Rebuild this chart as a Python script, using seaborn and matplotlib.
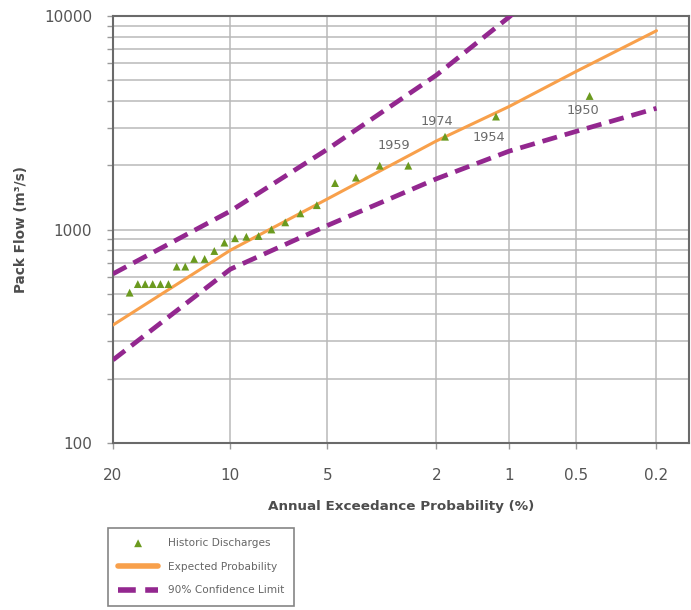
import numpy as np
import matplotlib
matplotlib.use("Agg")
import matplotlib.pyplot as plt
import seaborn as sns
from statistics import NormalDist
from matplotlib.ticker import FixedLocator, FixedFormatter, NullLocator, NullFormatter, LogLocator

# ---------------- data ----------------
# Historic discharges: plotting-position AEP (%) and peak flow (m3/s)
aep_hist = [0.43, 1.14, 1.85, 2.57, 3.28, 3.99, 4.71, 5.42, 6.13, 6.85, 7.56, 8.27, 8.99,
            9.70, 10.4, 11.1, 11.8, 12.6, 13.3, 14.0, 14.7, 15.4, 16.1, 16.8, 17.5, 18.3]
q_hist = [4220, 3380, 2720, 1990, 1990, 1750, 1650, 1300, 1190, 1080, 1000, 932, 925,
          910, 868, 793, 728, 728, 670, 670, 555, 555, 555, 555, 555, 506]

# Fitted curves evaluated at standard AEPs (%)
aep_curve = [20, 10, 5, 2, 1, 0.5, 0.2]
q_expected = [357, 800, 1390, 2600, 3770, 5490, 8530]
q_upper = [620, 1220, 2375, 5290, 9900, 18600, 42000]
q_lower = [245, 652, 1044, 1728, 2329, 2878, 3696]

# Labelled events: (label, index into historic arrays, text offset in points)
event_labels = ["1950", "1954", "1974", "1959"]
event_index = [0, 1, 2, 4]
event_offsets = [(-4.8, -10.1), (-5.3, -15.4), (-5.8, 10.8), (10.3, 14.6)]

x_ticks = [20, 10, 5, 2, 1, 0.5, 0.2]
x_ticklabels = ["20", "10", "5", "2", "1", "0.5", "0.2"]
y_ticks = [100, 1000, 10000]
y_ticklabels = ["100", "1000", "10000"]

GREEN = "#6b9a1f"
ORANGE = "#f8a04b"
PURPLE = "#93278f"
GRID = "#b9b9b9"
SPINE = "#6a6a6a"
TXT = "#555555"

# ---------------- style ----------------
sns.set_theme(style="white")
plt.rcParams["font.family"] = ["DejaVu Sans"]

# normal probability scale for AEP (%) (monotonic increasing transform)
_nd = NormalDist()


def _fwd(p):
    p = np.clip(np.asarray(p, dtype=float) / 100.0, 1e-12, 1 - 1e-12)
    return np.vectorize(lambda v: _nd.inv_cdf(v), otypes=[float])(p)


def _inv(z):
    z = np.asarray(z, dtype=float)
    return np.vectorize(lambda v: 100.0 * _nd.cdf(v), otypes=[float])(z)


fig = plt.figure(figsize=(6.91, 6.10), dpi=100)
ax = fig.add_axes([113 / 691, 1 - 443 / 610, (689 - 113) / 691, (443 - 16) / 610])
ax.set_xscale("function", functions=(_fwd, _inv))
ax.set_yscale("log")

sns.scatterplot(x=aep_hist, y=q_hist, ax=ax, marker="^", s=32, color=GREEN,
                edgecolor="none", linewidth=0, label="Historic Discharges", zorder=5)
sns.lineplot(x=aep_curve, y=q_expected, ax=ax, color=ORANGE, linewidth=2.2,
             sort=False, estimator=None, label="Expected Probability", zorder=4)
sns.lineplot(x=aep_curve, y=q_upper, ax=ax, color=PURPLE, linewidth=3.4,
             linestyle=(0, (3.2, 1.7)), sort=False, estimator=None,
             label="90% Confidence Limit", zorder=3)
sns.lineplot(x=aep_curve, y=q_lower, ax=ax, color=PURPLE, linewidth=3.4,
             linestyle=(0, (3.2, 1.7)), sort=False, estimator=None,
             label="_nolegend_", zorder=3)

if ax.get_legend() is not None:
    ax.get_legend().remove()

ax.set_xlim(20, 0.135)
ax.set_ylim(100, 10000)

ax.xaxis.set_major_locator(FixedLocator(x_ticks))
ax.xaxis.set_major_formatter(FixedFormatter(x_ticklabels))
ax.xaxis.set_minor_locator(NullLocator())
ax.yaxis.set_major_locator(FixedLocator(y_ticks))
ax.yaxis.set_major_formatter(FixedFormatter(y_ticklabels))
ax.yaxis.set_minor_locator(LogLocator(base=10, subs=np.arange(2, 10)))
ax.yaxis.set_minor_formatter(NullFormatter())

ax.grid(True, which="both", color=GRID, linewidth=1.1, zorder=0)
ax.set_axisbelow(True)
ax.tick_params(which="both", bottom=True, left=True, direction="out", length=4,
               width=1, color="#9a9a9a", labelcolor=TXT, labelsize=11)
ax.tick_params(axis="y", pad=11)
ax.tick_params(axis="x", pad=14)

for sp in ax.spines.values():
    sp.set_visible(True)
    sp.set_color(SPINE)
    sp.set_linewidth(1.5)

ax.set_xlabel("Annual Exceedance Probability (%)", fontsize=9.7, fontweight="bold", color="#4d4d4d")
ax.set_ylabel("Pack Flow (m³/s)", fontsize=9.8, fontweight="bold", color="#4d4d4d")
ax.xaxis.set_label_coords(0.5, (443 - 500) / 427)
ax.yaxis.set_label_coords((28 - 113) / 576, 0.5)

for lab, idx, off in zip(event_labels, event_index, event_offsets):
    ax.annotate(lab, xy=(aep_hist[idx], q_hist[idx]), xytext=off, textcoords="offset points",
                ha="center", va="center", fontsize=9.3, color="#6a6a6a", zorder=6)

handles, labels = ax.get_legend_handles_labels()
leg = fig.legend(handles, labels, loc="upper left", bbox_to_anchor=(108 / 691, 1 - 528 / 610),
                 bbox_transform=fig.transFigure, frameon=True, fancybox=False,
                 edgecolor="#666666", fontsize=7.6, handlelength=3.8, handletextpad=0.9,
                 borderpad=0.95, labelspacing=1.3, borderaxespad=0, scatterpoints=1,
                 facecolor="white")
leg.get_frame().set_linewidth(1.2)
for t in leg.get_texts():
    t.set_color("#666666")
for ln in leg.get_lines():
    ln.set_linewidth(4)

fig.savefig("out.png", dpi=100)
